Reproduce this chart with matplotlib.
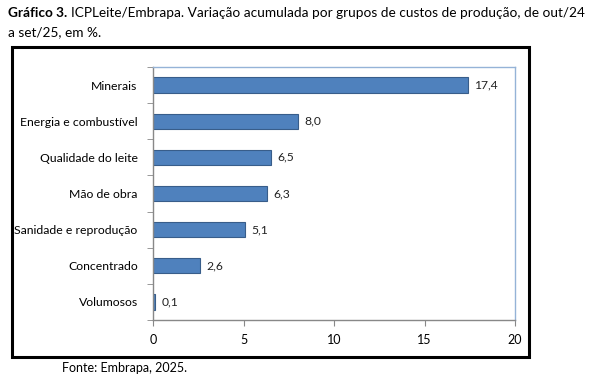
import numpy as np
import matplotlib.pyplot as plt
from matplotlib.patches import Rectangle

# ── data ─────────────────────────────────────────────
categories = ["Minerais", "Energia e combustível", "Qualidade do leite",
              "Mão de obra", "Sanidade e reprodução", "Concentrado",
              "Volumosos"]
values = [17.4, 8.0, 6.5, 6.3, 5.1, 2.6, 0.1]
x_ticks = [0, 5, 10, 15, 20]

plt.rcParams['font.family'] = ['Lato', 'DejaVu Sans']

W, H = 597, 385
fig = plt.figure(figsize=(W / 100, H / 100), dpi=100)
fig.patch.set_facecolor('white')

# outer black frame around the chart
fig.patches.append(Rectangle((12 / W, 1 - 357 / H), (529 - 12) / W,
                             (357 - 47) / H, transform=fig.transFigure,
                             fill=False, edgecolor='black', linewidth=2.2))

ax = fig.add_axes([153 / W, 1 - 320 / H, (515 - 153) / W, (320 - 67) / H])

y = np.arange(len(categories))
ax.barh(y, values, height=0.42, color='#4F81BD', edgecolor='#385D8A',
        linewidth=0.8, zorder=2)
for yi, v in zip(y, values):
    ax.text(v + 0.35, yi, f"{v:.1f}".replace('.', ','), va='center',
            ha='left', fontsize=8.7, color='#222222')

ax.set_xlim(0, 20)
ax.set_ylim(len(categories) - 0.5, -0.5)
ax.set_xticks(x_ticks)
ax.set_xticklabels([str(t) for t in x_ticks], fontsize=9)
ax.set_yticks(y)
ax.set_yticklabels(categories, fontsize=8.8)
ax.tick_params(axis='y', length=0, pad=11)
ax.set_yticks(np.arange(-0.5, len(categories), 1), minor=True)
ax.tick_params(axis='y', which='minor', length=4, color='#888888')
ax.tick_params(axis='x', length=4, color='#888888', pad=6)

for side in ['left', 'bottom']:
    ax.spines[side].set_color('#888888')
for side in ['top', 'right']:
    ax.spines[side].set_color('#95B3D7')
for s in ax.spines.values():
    s.set_linewidth(1.0)

# title with bold prefix
fig.text(8 / W, 1 - 17 / H, "Gráfico 3.", fontsize=9.8, fontweight='bold',
         ha='left', va='baseline')
fig.text(71 / W, 1 - 17 / H,
         "ICPLeite/Embrapa. Variação acumulada por grupos de custos de produção, de out/24",
         fontsize=9.8, ha='left', va='baseline')
fig.text(8 / W, 1 - 36 / H, "a set/25, em %.", fontsize=9.8, ha='left',
         va='baseline')
fig.text(62 / W, 1 - 372 / H, "Fonte: Embrapa, 2025.", fontsize=9,
         ha='left', va='baseline')

plt.savefig('out.png', dpi=100)
plt.close()
